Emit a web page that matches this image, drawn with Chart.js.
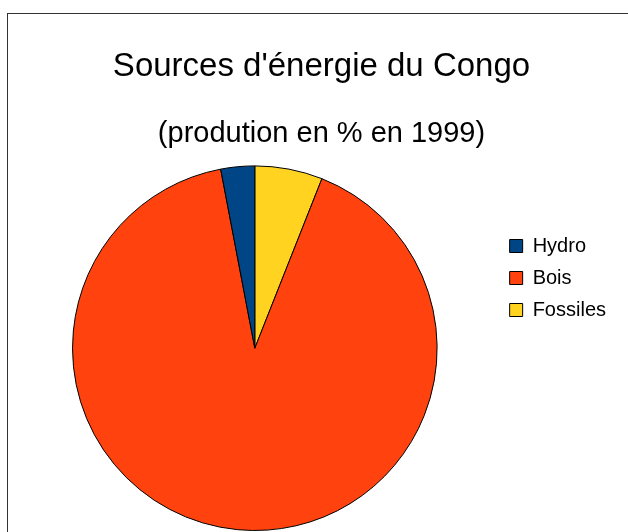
<!DOCTYPE html>
<html lang="fr">
<head>
<meta charset="utf-8">
<script src="https://cdn.jsdelivr.net/npm/chart.js@4"></script>
<style>
  html, body { margin: 0; padding: 0; background: #fff; overflow: hidden; }
  #wrap { position: relative; width: 628px; height: 532px; overflow: hidden; }
  #cadre { position: absolute; left: 7px; top: 13px; width: 700px; height: 600px; border: 1px solid #333; }
  canvas { position: absolute; left: 0; top: 0; }
</style>
</head>
<body>
<div id="wrap">
  <div id="cadre"></div>
  <canvas id="energieChart" width="636" height="532"></canvas>
</div>
<script>
// Données (production en %, 1999)
const categories = ['Hydro', 'Bois', 'Fossiles'];
const valeurs = [3, 91, 6];
const couleurs = ['#004586', '#ff420e', '#ffd320'];

document.addEventListener('DOMContentLoaded', () => {
    const ctx = document.getElementById('energieChart');

    // Le camembert d'origine tourne dans le sens inverse : on inverse l'ordre des parts
    const ordre = categories.map((_, i) => i).reverse();
    const etiquettesParDefaut = Chart.overrides.pie.plugins.legend.labels.generateLabels;

    new Chart(ctx.getContext('2d'), {
        type: 'pie',
        data: {
            labels: ordre.map(i => categories[i]),
            datasets: [{
                data: ordre.map(i => valeurs[i]),
                backgroundColor: ordre.map(i => couleurs[i]),
                borderColor: '#000',
                borderWidth: 1
            }]
        },
        options: {
            responsive: false,
            animation: false,
            layout: { padding: { left: 12, right: 5, top: 0, bottom: 1 } },
            plugins: {
                tooltip: { enabled: false },
                title: {
                    display: true,
                    text: "Sources d'énergie du Congo",
                    color: '#000',
                    font: { family: "'Liberation Sans', Arial, sans-serif", size: 33, weight: 'normal' },
                    padding: { top: 47, bottom: 16 }
                },
                subtitle: {
                    display: true,
                    text: '(prodution en % en 1999)',
                    color: '#000',
                    font: { family: "'Liberation Sans', Arial, sans-serif", size: 29, weight: 'normal' },
                    padding: { top: 14, bottom: 14 }
                },
                legend: {
                    position: 'right',
                    align: 'start',
                    fullSize: false,
                    reverse: true,
                    title: {
                        display: true,
                        text: ' ',
                        font: { size: 48 },
                        padding: { top: 1, bottom: 0 }
                    },
                    labels: {
                        boxWidth: 13,
                        boxHeight: 13,
                        padding: 12,
                        color: '#000',
                        font: { family: "'Liberation Sans', Arial, sans-serif", size: 20 },
                        // un peu d'espace après le texte pour élargir la légende
                        generateLabels: chart => etiquettesParDefaut(chart)
                            .map(item => ({ ...item, text: item.text + '\u2002\u2005' }))
                    }
                }
            }
        }
    });
});
</script>
</body>
</html>
